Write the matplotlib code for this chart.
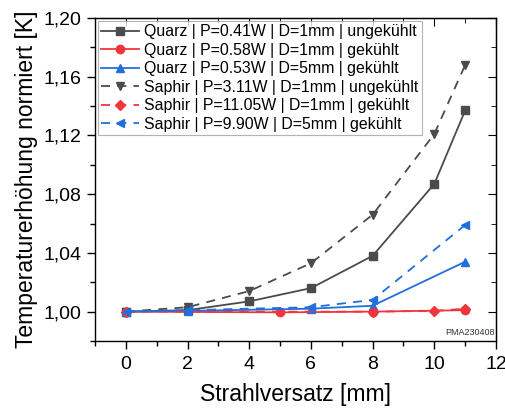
import matplotlib
matplotlib.use("Agg")
import matplotlib.pyplot as plt
from matplotlib.ticker import MultipleLocator, FuncFormatter

plt.rcParams['font.family'] = ['Liberation Sans', 'DejaVu Sans']

# Data
x_q_ung = [0, 2, 4, 6, 8, 10, 11]
y_q_ung = [1.000, 1.001, 1.007, 1.016, 1.038, 1.087, 1.137]
x_q_gek1 = [0, 5, 8, 11]
y_q_gek1 = [1.000, 0.9995, 1.000, 1.001]
x_q_gek5 = [0, 2, 6, 8, 11]
y_q_gek5 = [1.000, 1.0005, 1.002, 1.004, 1.034]
x_s_ung = [0, 2, 4, 6, 8, 10, 11]
y_s_ung = [1.000, 1.003, 1.014, 1.033, 1.066, 1.121, 1.168]
x_s_gek1 = [0, 8, 10, 11]
y_s_gek1 = [1.000, 1.000, 1.0005, 1.002]
x_s_gek5 = [0, 2, 6, 8, 11]
y_s_gek5 = [1.000, 1.001, 1.003, 1.008, 1.059]

labels = [
    "Quarz | P=0.41W | D=1mm | ungekühlt",
    "Quarz | P=0.58W | D=1mm | gekühlt",
    "Quarz | P=0.53W | D=5mm | gekühlt",
    "Saphir | P=3.11W | D=1mm | ungekühlt",
    "Saphir | P=11.05W | D=1mm | gekühlt",
    "Saphir | P=9.90W | D=5mm | gekühlt",
]

gray = '#4b4b4b'
red = '#f0363c'
blue = '#1f6fde'

fig = plt.figure(figsize=(5.05, 4.08), dpi=100)
ax = fig.add_axes([95/505, 1 - 341/408, 401/505, 323/408])

ms = 6
ax.plot(x_q_ung, y_q_ung, '-', color=gray, marker='s', ms=ms, lw=1.3, label=labels[0])
ax.plot(x_q_gek1, y_q_gek1, '-', color=red, marker='o', ms=ms, lw=1.3, label=labels[1])
ax.plot(x_q_gek5, y_q_gek5, '-', color=blue, marker='^', ms=ms, lw=1.3, label=labels[2])
ax.plot(x_s_ung, y_s_ung, '--', color=gray, marker='v', ms=ms, lw=1.3, dashes=(5, 4), label=labels[3])
ax.plot(x_s_gek1, y_s_gek1, '--', color=red, marker='D', ms=5.5, lw=1.3, dashes=(5, 4), label=labels[4])
ax.plot(x_s_gek5, y_s_gek5, '--', color=blue, marker='<', ms=ms, lw=1.3, dashes=(5, 4), label=labels[5])

ax.set_xlim(-1, 12)
ax.set_ylim(0.98, 1.20)
ax.xaxis.set_major_locator(MultipleLocator(2))
ax.xaxis.set_minor_locator(MultipleLocator(1))
ax.yaxis.set_major_locator(MultipleLocator(0.04))
ax.yaxis.set_minor_locator(MultipleLocator(0.02))
ax.yaxis.set_major_formatter(FuncFormatter(lambda v, p: f"{v:.2f}".replace('.', ',')))

ax.tick_params(which='both', direction='out', labelsize=14, width=1)
ax.tick_params(which='major', length=6)
ax.tick_params(which='minor', length=3.5)
ax.tick_params(axis='x', pad=5)
ax.tick_params(axis='y', pad=4)
for spine in ax.spines.values():
    spine.set_linewidth(1.0)

secx = ax.secondary_xaxis('top')
secx.xaxis.set_major_locator(MultipleLocator(2))
secx.xaxis.set_minor_locator(MultipleLocator(1))
secx.tick_params(which='both', direction='in', labeltop=False)
secx.tick_params(which='major', length=6)
secx.tick_params(which='minor', length=3.5)
secy = ax.secondary_yaxis('right')
secy.yaxis.set_major_locator(MultipleLocator(0.04))
secy.yaxis.set_minor_locator(MultipleLocator(0.02))
secy.tick_params(which='both', direction='in', labelright=False)
secy.tick_params(which='major', length=6)
secy.tick_params(which='minor', length=3.5)

ax.set_xlabel("Strahlversatz [mm]", fontsize=16.5, labelpad=7)
ax.set_ylabel("Temperaturerhöhung normiert [K]", fontsize=16.5, labelpad=4)

leg = ax.legend(loc='upper left', fontsize=11.4, frameon=True, fancybox=False,
                edgecolor='#a0a0a0', handlelength=2.4, handletextpad=0.3,
                borderpad=0.2, labelspacing=0.22, borderaxespad=0.2)
leg.get_frame().set_linewidth(0.8)

ax.text(0.997, 0.012, "PMA230408", transform=ax.transAxes, ha='right', va='bottom',
        fontsize=6.5, color='#333333')

fig.savefig("out.png", dpi=100)
